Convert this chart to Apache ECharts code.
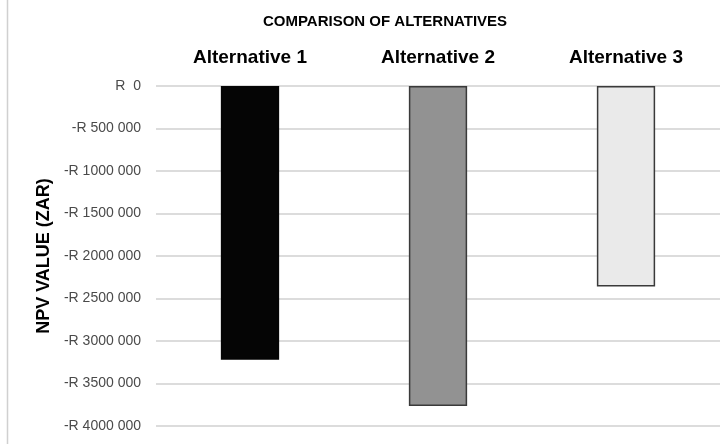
<!DOCTYPE html>
<html>
<head>
<meta charset="utf-8">
<script src="https://cdn.jsdelivr.net/npm/echarts@6/dist/echarts.min.js"></script>
<style>html,body{margin:0;padding:0;background:#fff}#c{width:727px;height:444px}</style>
</head>
<body>
<div id="c"></div>
<script>
const categories = ['Alternative 1', 'Alternative 2', 'Alternative 3'];
const npvValues = [-3220000, -3765000, -2360000];
const barColors = ['#050505', '#929292', '#eaeaea'];
const borderColors = ['#050505', '#3a3a3a', '#3a3a3a'];
const yTicks = { min: -4000000, max: 0, interval: 500000 };

function fmt(v) {
  if (v === 0) return 'R  0';
  const a = Math.abs(v);
  const s = String(a);
  const body = s.length > 3 ? s.slice(0, s.length - 3) + ' ' + s.slice(-3) : s;
  return (v < 0 ? '-' : '') + 'R ' + body;
}

const chart = echarts.init(document.getElementById('c'));
chart.setOption({
  animation: false,
  backgroundColor: '#fff',
  textStyle: { fontFamily: 'Liberation Sans' },
  title: {
    text: 'COMPARISON OF ALTERNATIVES',
    left: 380, top: 9, textAlign: 'center',
    textStyle: { fontSize: 15, fontWeight: 'bold', color: '#000', fontFamily: 'Liberation Sans' }
  },
  graphic: [{
    type: 'line', shape: { x1: 7.5, y1: 0, x2: 7.5, y2: 444 },
    style: { stroke: '#d0d0d0', lineWidth: 1.5 }
  }],
  grid: { left: 156, right: 7, top: 86, bottom: 18 },
  xAxis: {
    type: 'category', position: 'top', data: categories,
    axisLine: { show: false }, axisTick: { show: false },
    axisLabel: { fontSize: 19, fontWeight: 'bold', color: '#000', margin: 19 }
  },
  yAxis: {
    type: 'value', min: yTicks.min, max: yTicks.max, interval: yTicks.interval,
    name: 'NPV VALUE (ZAR)', nameLocation: 'middle', nameGap: 102,
    nameTextStyle: { fontSize: 18, fontWeight: 'bold', color: '#000' },
    axisLine: { show: false }, axisTick: { show: false },
    axisLabel: { formatter: fmt, fontSize: 14, color: '#4a4a4a', margin: 15 },
    splitLine: { lineStyle: { color: '#d0d0d0', width: 1.5 } }
  },
  series: [{
    type: 'bar', barWidth: '31%',
    data: npvValues.map((v, i) => ({
      value: v,
      itemStyle: { color: barColors[i], borderColor: borderColors[i], borderWidth: 1.5 }
    }))
  }]
});
</script>
</body>
</html>
